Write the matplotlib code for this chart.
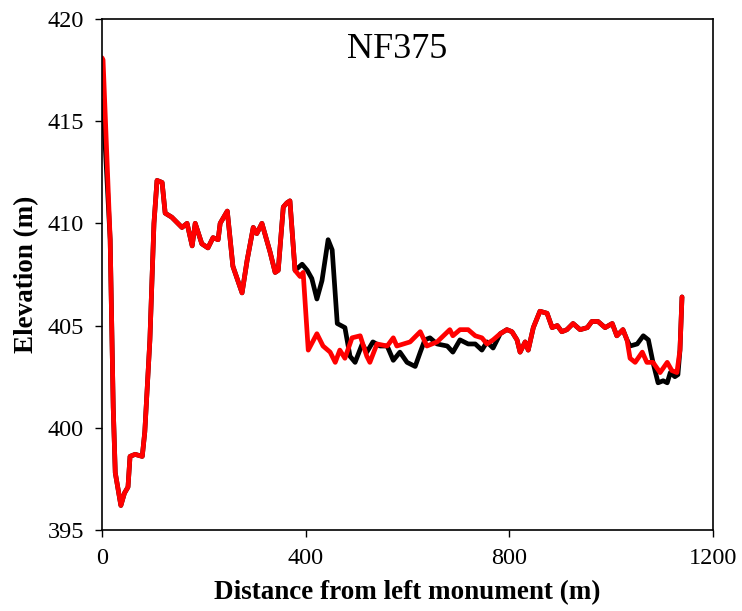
import matplotlib
matplotlib.use("Agg")
import matplotlib.pyplot as plt

# 剖面数据
red_x = [0, 2, 16, 22, 26, 37, 44, 51, 55, 65, 79, 84, 94, 102, 108, 118, 124, 137, 157, 167,
         177, 183, 196, 208, 218, 228, 232, 246, 257, 275, 285, 297, 304, 314, 330, 340, 346, 356,
         363, 369, 379, 389, 395, 405, 422, 434, 448, 458, 467, 477, 491, 507, 520, 526, 540, 560,
         572, 579, 605, 625, 638, 658, 683, 689, 703, 719, 733, 746, 756, 768, 782, 795, 805, 815,
         821, 831, 837, 847, 860, 874, 884, 894, 903, 913, 925, 939, 953, 962, 974, 988, 1002, 1011,
         1023, 1031, 1037, 1047, 1061, 1070, 1082, 1096, 1110, 1119, 1129, 1135, 1139]
red_y = [418.1, 418.0, 409.2, 401.0, 397.8, 396.2, 396.8, 397.1, 398.6, 398.7, 398.6, 399.8, 404.3,
         410.0, 412.1, 412.0, 410.5, 410.3, 409.8, 410.0, 408.9, 410.0, 409.0, 408.8, 409.3, 409.2,
         410.0, 410.6, 407.9, 406.6, 408.2, 409.8, 409.5, 410.0, 408.6, 407.6, 407.7, 410.8, 411.0,
         411.1, 407.7, 407.4, 407.6, 403.8, 404.6, 404.0, 403.7, 403.2, 403.8, 403.4, 404.4, 404.5,
         403.5, 403.2, 404.1, 404.0, 404.4, 404.0, 404.2, 404.7, 404.0, 404.2, 404.8, 404.5, 404.8,
         404.8, 404.5, 404.4, 404.1, 404.3, 404.6, 404.8, 404.7, 404.3, 403.7, 404.2, 403.8, 404.9,
         405.7, 405.6, 404.9, 405.0, 404.7, 404.8, 405.1, 404.8, 404.9, 405.2, 405.2, 404.9, 405.1,
         404.5, 404.8, 404.3, 403.4, 403.2, 403.7, 403.2, 403.2, 402.7, 403.2, 402.8, 402.7, 403.8,
         406.4]

black_x = [0, 2, 16, 22, 26, 37, 44, 51, 55, 65, 79, 84, 94, 102, 108, 118, 124, 137, 157, 167,
           177, 183, 196, 208, 218, 228, 232, 246, 257, 275, 285, 297, 304, 314, 330, 340, 346, 356,
           363, 369, 379, 393, 403, 412, 422, 432, 444, 452, 462, 477, 487, 497, 511, 520, 532, 546,
           560, 572, 585, 599, 615, 625, 634, 644, 658, 678, 689, 703, 719, 733, 746, 756, 768, 782,
           795, 805, 815, 821, 831, 837, 847, 860, 874, 884, 894, 903, 913, 925, 939, 953, 962, 974,
           988, 1002, 1011, 1023, 1031, 1037, 1051, 1063, 1073, 1082, 1092, 1102, 1110, 1116, 1125,
           1131, 1135, 1139]
black_y = [416.0, 415.8, 409.2, 401.0, 397.8, 396.2, 396.8, 397.1, 398.6, 398.7, 398.6, 399.8,
           404.3, 410.0, 412.1, 412.0, 410.5, 410.3, 409.8, 410.0, 408.9, 410.0, 409.0, 408.8,
           409.3, 409.2, 410.0, 410.6, 407.9, 406.6, 408.2, 409.8, 409.5, 410.0, 408.6, 407.6,
           407.7, 410.8, 411.0, 411.1, 407.7, 408.0, 407.7, 407.3, 406.3, 407.2, 409.2, 408.7,
           405.1, 404.9, 403.5, 403.2, 404.1, 403.7, 404.2, 404.0, 404.0, 403.3, 403.7, 403.2,
           403.0, 403.7, 404.3, 404.4, 404.1, 404.0, 403.7, 404.3, 404.1, 404.1, 403.8, 404.2,
           403.9, 404.6, 404.8, 404.7, 404.3, 403.7, 404.2, 403.8, 404.9, 405.7, 405.6, 404.9,
           405.0, 404.7, 404.8, 405.1, 404.8, 404.9, 405.2, 405.2, 404.9, 405.1, 404.5, 404.8,
           404.3, 404.0, 404.1, 404.5, 404.3, 403.2, 402.2, 402.3, 402.2, 402.7, 402.5, 402.6,
           403.8, 406.4]

x_ticks = [0, 400, 800, 1200]
y_ticks = [395, 400, 405, 410, 415, 420]

plt.rcParams['font.family'] = ['Liberation Serif', 'DejaVu Serif']

fig = plt.figure(figsize=(7.42, 6.11), dpi=100)
ax = fig.add_axes([0.1375, 0.1326, 0.8235, 0.8364])

ax.plot(black_x, black_y, color='black', linewidth=3.4, solid_joinstyle='round', solid_capstyle='round')
ax.plot(red_x, red_y, color='red', linewidth=3.4, solid_joinstyle='round', solid_capstyle='round')

ax.set_xlim(0, 1200)
ax.set_ylim(395, 420)
ax.set_xticks(x_ticks)
ax.set_yticks(y_ticks)
ax.tick_params(direction='out', length=5, width=1, labelsize=17.5, pad=8)
for s in ax.spines.values():
    s.set_linewidth(1.2)

ax.set_xlabel('Distance from left monument (m)', fontsize=19.5, fontweight='bold', labelpad=8)
ax.set_ylabel('Elevation (m)', fontsize=19.5, fontweight='bold', labelpad=6)
ax.text(580, 419.3, 'NF375', fontsize=26, ha='center', va='top')

fig.savefig('out.png', dpi=100)
